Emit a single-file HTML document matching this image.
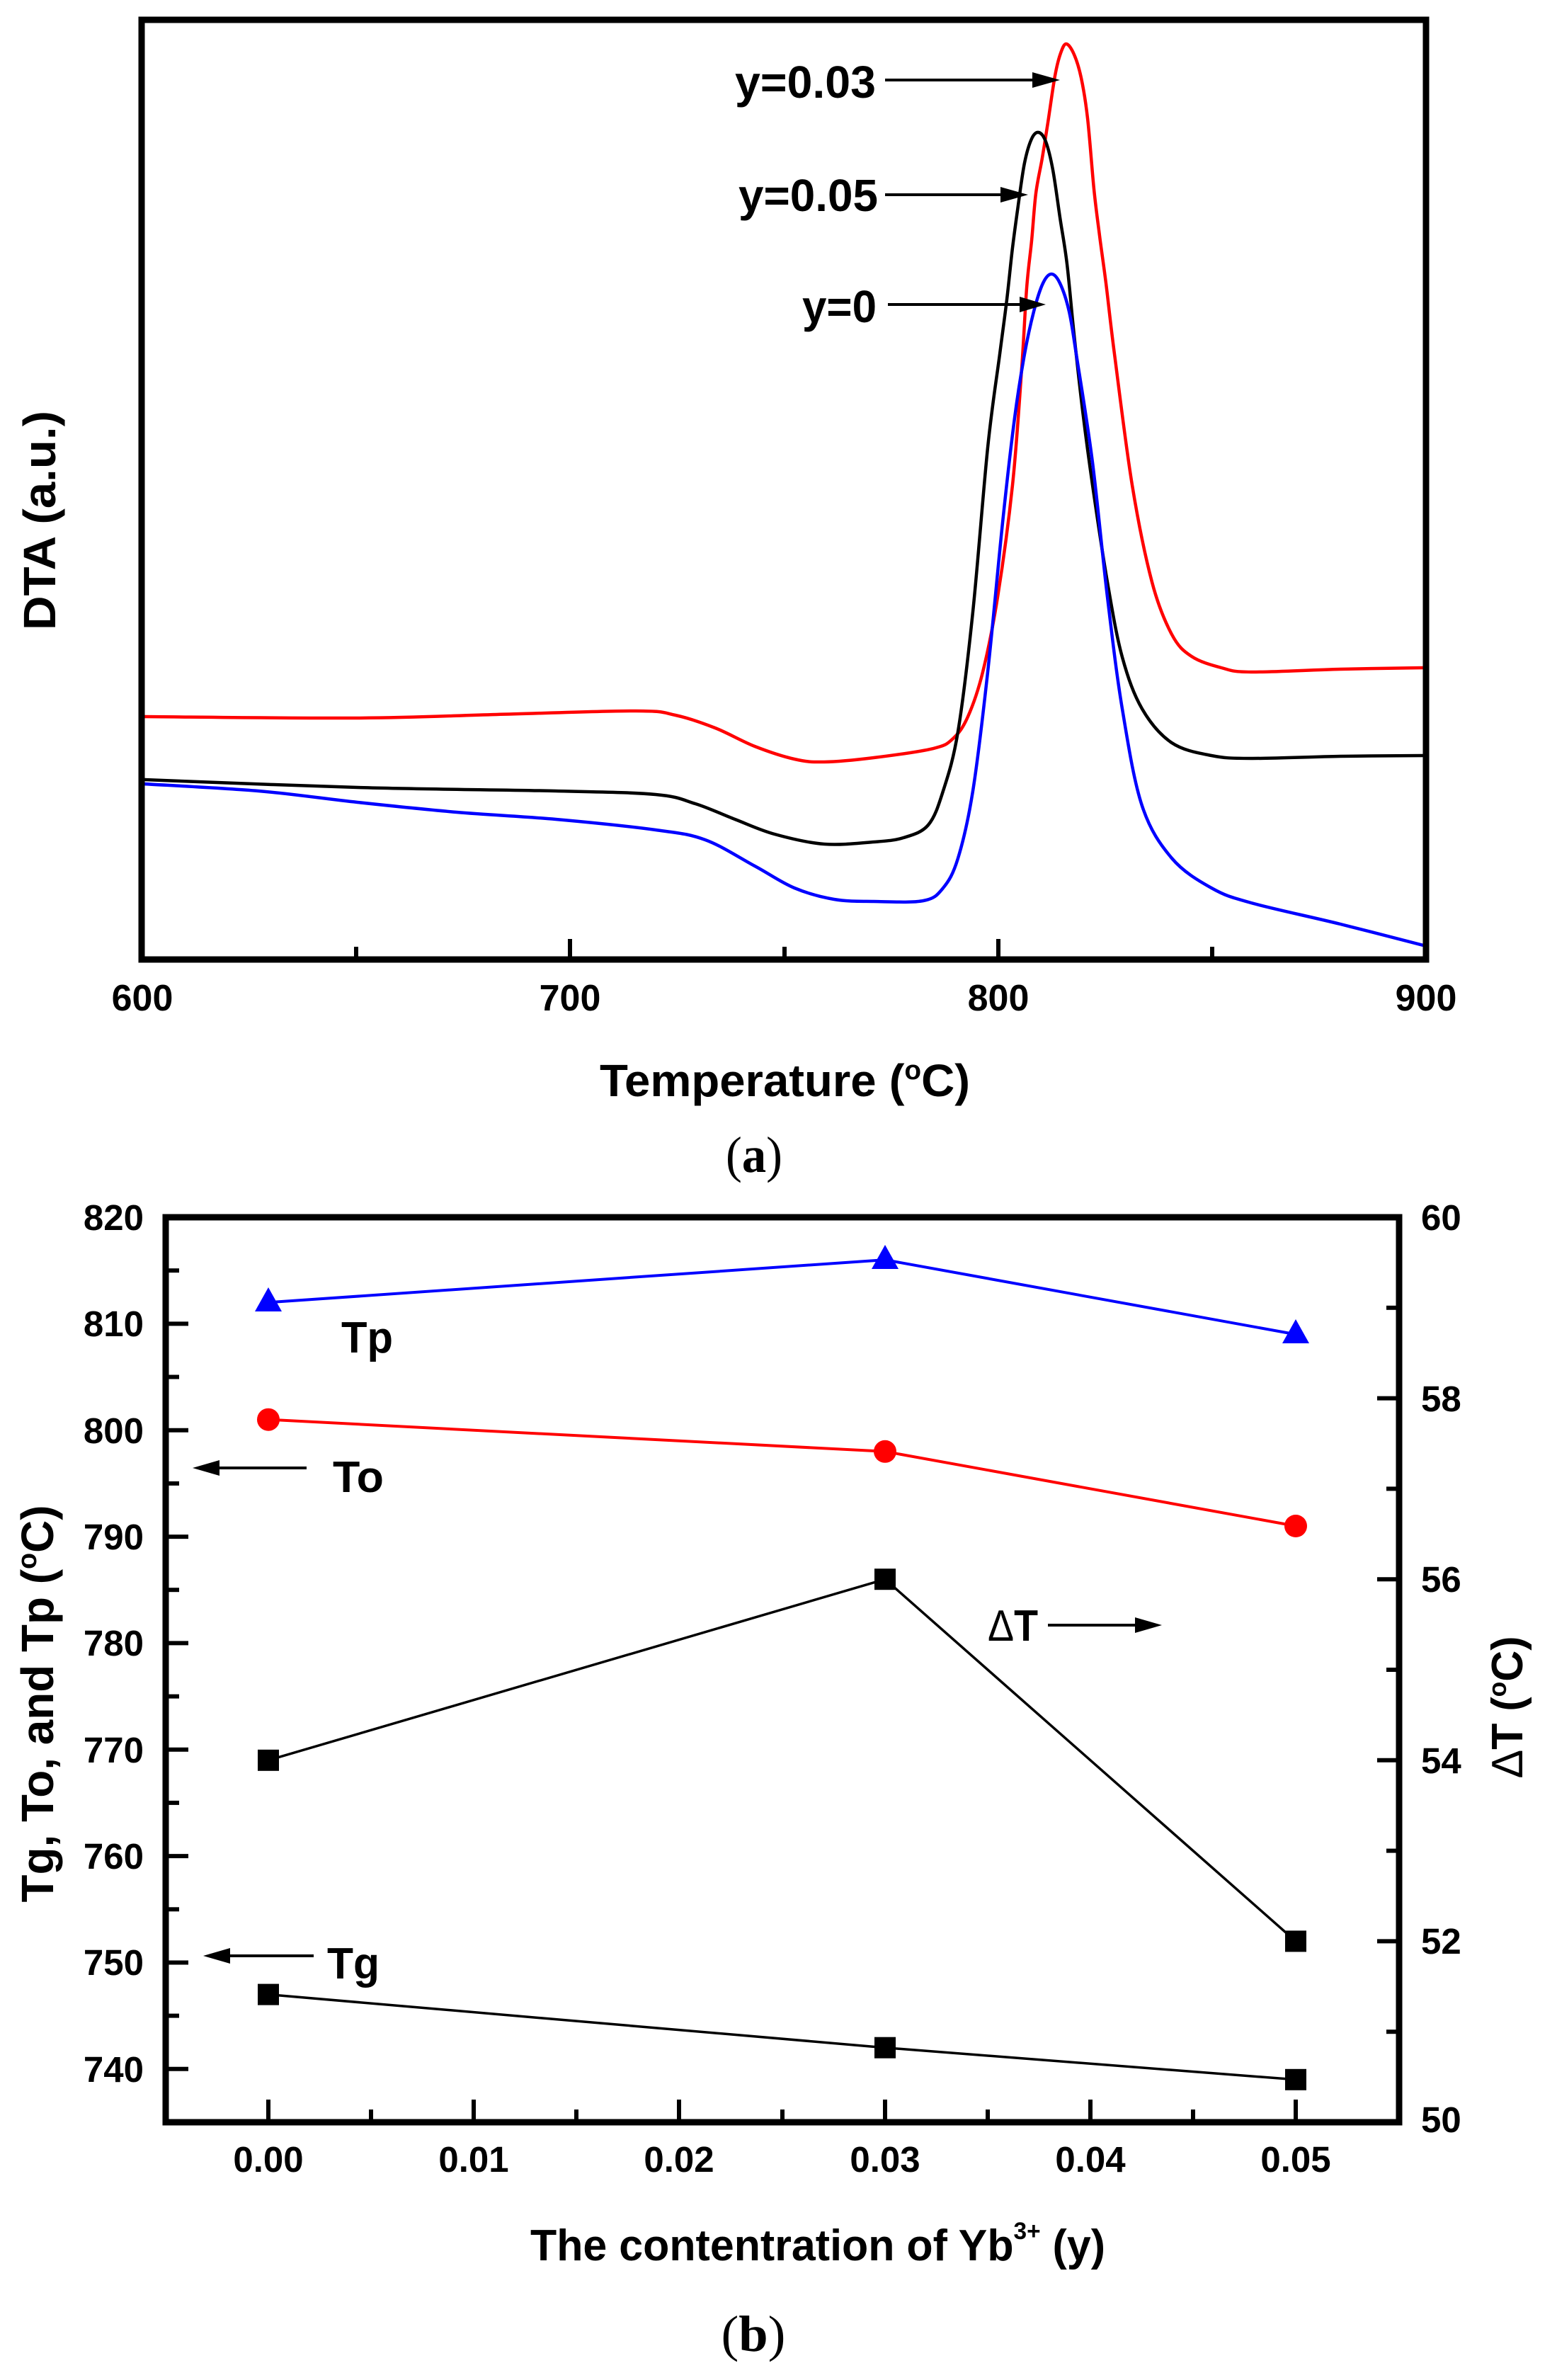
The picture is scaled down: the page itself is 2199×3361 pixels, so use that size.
<!DOCTYPE html>
<html>
<head>
<meta charset="utf-8">
<style>
  html, body { margin:0; padding:0; background:#fff; }
  svg { display:block; }
  text { font-family: "Liberation Sans", "DejaVu Sans", sans-serif; font-weight: bold; fill:#000; }
  .serif { font-family: "Liberation Serif", "DejaVu Serif", serif; }
</style>
</head>
<body>
<svg width="2199" height="3361" viewBox="0 0 2199 3361" xmlns="http://www.w3.org/2000/svg">
  <rect x="0" y="0" width="2199" height="3361" fill="#fff"/>

  <!-- ================= PANEL (a) ================= -->
  <defs>
    <clipPath id="clipA"><rect x="204" y="32" width="1806" height="1319"/></clipPath>
  </defs>

  <!-- curves -->
  <g clip-path="url(#clipA)" fill="none" stroke-width="4.5" stroke-linejoin="round" stroke-linecap="round">
    <polyline class="smooth" stroke="#ff0000" points="203,1012 505,1014 701,1009 898,1004 954,1010 1010,1028 1066,1054 1122,1072 1164,1076 1234,1070 1318,1057 1346,1043 1367,1012 1388,949 1409,843 1430,685 1443,520 1450,407 1457,340 1463,273 1472,223 1480,173 1490,107 1498,75 1506,62 1517,77 1527,110 1536,167 1545,267 1553,333 1562,400 1574,500 1599,685 1627,822 1655,896 1683,927 1725,943 1767,949 1893,945 2014,943"/>
    <polyline class="smooth" stroke="#000000" points="203,1101 505,1112 785,1117 926,1122 982,1135 1038,1157 1094,1178 1164,1192 1234,1189 1276,1183 1311,1165 1332,1117 1353,1033 1374,864 1395,632 1412,500 1422,423 1430,350 1438,290 1447,230 1457,196 1467,187 1477,200 1487,240 1497,307 1507,373 1517,473 1529,580 1543,685 1564,822 1585,928 1613,1001 1655,1049 1711,1067 1767,1071 1893,1068 2014,1067"/>
    <polyline class="smooth" stroke="#0000ff" points="203,1107 365,1117 505,1133 645,1147 785,1157 926,1172 996,1186 1066,1223 1122,1254 1178,1270 1234,1273 1304,1272 1332,1254 1353,1212 1374,1117 1395,949 1416,738 1433,590 1447,500 1460,440 1473,400 1485,387 1497,400 1510,440 1520,500 1543,653 1564,843 1585,1001 1613,1138 1655,1212 1711,1254 1767,1275 1893,1305 2014,1336"/>
  </g>

  <!-- frame (a) -->
  <rect x="200" y="28" width="1814" height="1327" fill="none" stroke="#000" stroke-width="9"/>

  <!-- bottom ticks (a) -->
  <g stroke="#000" stroke-width="6">
    <line x1="503" y1="1351" x2="503" y2="1337"/>
    <line x1="805" y1="1351" x2="805" y2="1326"/>
    <line x1="1108" y1="1351" x2="1108" y2="1337"/>
    <line x1="1410" y1="1351" x2="1410" y2="1326"/>
    <line x1="1712" y1="1351" x2="1712" y2="1337"/>
  </g>

  <!-- tick labels (a) -->
  <g font-size="52" text-anchor="middle">
    <text x="201" y="1427">600</text>
    <text x="805" y="1427">700</text>
    <text x="1410" y="1427">800</text>
    <text x="2014" y="1427">900</text>
  </g>

  <!-- axis titles (a) -->
  <text x="847" y="1548" font-size="64" textLength="523" lengthAdjust="spacingAndGlyphs">Temperature (<tspan font-size="38" dy="-24">o</tspan><tspan dy="24">C)</tspan></text>
  <text transform="translate(78,735) rotate(-90)" x="0" y="0" font-size="64" text-anchor="middle" textLength="310" lengthAdjust="spacingAndGlyphs">DTA (a.u.)</text>

  <!-- annotations (a) -->
  <g font-size="64" text-anchor="end">
    <text x="1237" y="138" textLength="199" lengthAdjust="spacingAndGlyphs">y=0.03</text>
    <text x="1240" y="298" textLength="197" lengthAdjust="spacingAndGlyphs">y=0.05</text>
    <text x="1238" y="455" textLength="105" lengthAdjust="spacingAndGlyphs">y=0</text>
  </g>
  <g stroke="#000" stroke-width="4">
    <line x1="1250" y1="113" x2="1462" y2="113"/>
    <line x1="1250" y1="275" x2="1417" y2="275"/>
    <line x1="1254" y1="430" x2="1444" y2="430"/>
  </g>
  <g fill="#000">
    <polygon points="1497,113 1458,102 1458,124"/>
    <polygon points="1452,275 1413,264 1413,286"/>
    <polygon points="1477,430 1440,419 1440,441"/>
  </g>

  <!-- (a) caption -->
  <text class="serif" x="1065" y="1655" font-size="72" text-anchor="middle" style="font-weight:normal" textLength="80" lengthAdjust="spacingAndGlyphs">(<tspan style="font-weight:bold">a</tspan>)</text>

  <!-- ================= PANEL (b) ================= -->
  <rect x="234" y="1719" width="1742" height="1278" fill="none" stroke="#000" stroke-width="9"/>

  <!-- left ticks -->
  <g stroke="#000" stroke-width="6">
    <line x1="238" y1="1794.2" x2="253" y2="1794.2"/>
    <line x1="238" y1="1869.4" x2="266" y2="1869.4"/>
    <line x1="238" y1="1944.5" x2="253" y2="1944.5"/>
    <line x1="238" y1="2019.7" x2="266" y2="2019.7"/>
    <line x1="238" y1="2094.9" x2="253" y2="2094.9"/>
    <line x1="238" y1="2170.1" x2="266" y2="2170.1"/>
    <line x1="238" y1="2245.2" x2="253" y2="2245.2"/>
    <line x1="238" y1="2320.4" x2="266" y2="2320.4"/>
    <line x1="238" y1="2395.6" x2="253" y2="2395.6"/>
    <line x1="238" y1="2470.8" x2="266" y2="2470.8"/>
    <line x1="238" y1="2545.9" x2="253" y2="2545.9"/>
    <line x1="238" y1="2621.1" x2="266" y2="2621.1"/>
    <line x1="238" y1="2696.3" x2="253" y2="2696.3"/>
    <line x1="238" y1="2771.5" x2="266" y2="2771.5"/>
    <line x1="238" y1="2846.6" x2="253" y2="2846.6"/>
    <line x1="238" y1="2921.8" x2="266" y2="2921.8"/>
  </g>
  <!-- right ticks -->
  <g stroke="#000" stroke-width="6">
    <line x1="1972" y1="1846.8" x2="1958" y2="1846.8"/>
    <line x1="1972" y1="1974.6" x2="1945" y2="1974.6"/>
    <line x1="1972" y1="2102.4" x2="1958" y2="2102.4"/>
    <line x1="1972" y1="2230.2" x2="1945" y2="2230.2"/>
    <line x1="1972" y1="2358.0" x2="1958" y2="2358.0"/>
    <line x1="1972" y1="2485.8" x2="1945" y2="2485.8"/>
    <line x1="1972" y1="2613.6" x2="1958" y2="2613.6"/>
    <line x1="1972" y1="2741.4" x2="1945" y2="2741.4"/>
    <line x1="1972" y1="2869.2" x2="1958" y2="2869.2"/>
  </g>
  <!-- bottom ticks -->
  <g stroke="#000" stroke-width="6">
    <line x1="379" y1="2993" x2="379" y2="2965"/>
    <line x1="524" y1="2993" x2="524" y2="2979"/>
    <line x1="669" y1="2993" x2="669" y2="2965"/>
    <line x1="814" y1="2993" x2="814" y2="2979"/>
    <line x1="959" y1="2993" x2="959" y2="2965"/>
    <line x1="1105" y1="2993" x2="1105" y2="2979"/>
    <line x1="1250" y1="2993" x2="1250" y2="2965"/>
    <line x1="1395" y1="2993" x2="1395" y2="2979"/>
    <line x1="1540" y1="2993" x2="1540" y2="2965"/>
    <line x1="1685" y1="2993" x2="1685" y2="2979"/>
    <line x1="1830" y1="2993" x2="1830" y2="2965"/>
  </g>

  <!-- left tick labels -->
  <g font-size="51" text-anchor="end">
    <text x="203" y="1737">820</text>
    <text x="203" y="1887">810</text>
    <text x="203" y="2038">800</text>
    <text x="203" y="2188">790</text>
    <text x="203" y="2338">780</text>
    <text x="203" y="2489">770</text>
    <text x="203" y="2639">760</text>
    <text x="203" y="2789">750</text>
    <text x="203" y="2940">740</text>
  </g>
  <!-- right tick labels -->
  <g font-size="51" text-anchor="start">
    <text x="2007" y="1737">60</text>
    <text x="2007" y="1993">58</text>
    <text x="2007" y="2248">56</text>
    <text x="2007" y="2504">54</text>
    <text x="2007" y="2759">52</text>
    <text x="2007" y="3011">50</text>
  </g>
  <!-- bottom tick labels -->
  <g font-size="51" text-anchor="middle">
    <text x="379" y="3067">0.00</text>
    <text x="669" y="3067">0.01</text>
    <text x="959" y="3067">0.02</text>
    <text x="1250" y="3067">0.03</text>
    <text x="1540" y="3067">0.04</text>
    <text x="1830" y="3067">0.05</text>
  </g>

  <!-- series lines -->
  <g fill="none" stroke-linejoin="round">
    <polyline stroke="#0000ff" stroke-width="4" points="379,1839.3 1250,1779.1 1830,1884.4"/>
    <polyline stroke="#ff0000" stroke-width="4" points="379,2004.7 1250,2049.8 1830,2155.0"/>
    <polyline stroke="#000" stroke-width="3.5" points="379,2485.8 1250,2230.2 1830,2741.4"/>
    <polyline stroke="#000" stroke-width="3.5" points="379,2816.6 1250,2891.7 1830,2936.8"/>
  </g>

  <!-- markers -->
  <g fill="#0000ff">
    <polygon points="379,1818 360,1852 398,1852"/>
    <polygon points="1250,1758 1231,1792 1269,1792"/>
    <polygon points="1830,1863 1811,1897 1849,1897"/>
  </g>
  <g fill="#ff0000">
    <circle cx="379" cy="2004.7" r="16"/>
    <circle cx="1250" cy="2049.8" r="16"/>
    <circle cx="1830" cy="2155.0" r="16"/>
  </g>
  <g fill="#000">
    <rect x="364" y="2470.8" width="30" height="30"/>
    <rect x="1235" y="2215.2" width="30" height="30"/>
    <rect x="1815" y="2726.4" width="30" height="30"/>
    <rect x="364" y="2801.6" width="30" height="30"/>
    <rect x="1235" y="2876.7" width="30" height="30"/>
    <rect x="1815" y="2921.8" width="30" height="30"/>
  </g>

  <!-- annotations (b) -->
  <g font-size="62">
    <text x="482" y="1910" textLength="73" lengthAdjust="spacingAndGlyphs">Tp</text>
    <text x="470" y="2107" textLength="72" lengthAdjust="spacingAndGlyphs">To</text>
    <text x="1395" y="2317" textLength="71" lengthAdjust="spacingAndGlyphs"><tspan style="font-weight:normal">Δ</tspan>T</text>
    <text x="462" y="2794" textLength="74" lengthAdjust="spacingAndGlyphs">Tg</text>
  </g>
  <g stroke="#000" stroke-width="4">
    <line x1="433" y1="2073" x2="305" y2="2073"/>
    <line x1="443" y1="2762" x2="320" y2="2762"/>
    <line x1="1480" y1="2295" x2="1608" y2="2295"/>
  </g>
  <g fill="#000">
    <polygon points="272,2073 310,2062 310,2084"/>
    <polygon points="287,2762 325,2751 325,2773"/>
    <polygon points="1641,2295 1603,2284 1603,2306"/>
  </g>

  <!-- axis titles (b) -->
  <text transform="translate(75,2406) rotate(-90)" x="0" y="0" font-size="64" text-anchor="middle" textLength="561" lengthAdjust="spacingAndGlyphs">Tg, To, and Tp (<tspan font-size="38" dy="-24">o</tspan><tspan dy="24">C)</tspan></text>
  <text transform="translate(2150,2411) rotate(-90)" x="0" y="0" font-size="62" text-anchor="middle" textLength="201" lengthAdjust="spacingAndGlyphs"><tspan style="font-weight:normal">Δ</tspan>T (<tspan font-size="36" dy="-23">o</tspan><tspan dy="23">C)</tspan></text>
  <text x="749" y="3192" font-size="62" textLength="812" lengthAdjust="spacingAndGlyphs">The contentration of Yb<tspan font-size="34" dy="-30">3+</tspan><tspan dy="30"> (y)</tspan></text>

  <!-- (b) caption -->
  <text class="serif" x="1064" y="3320" font-size="72" text-anchor="middle" style="font-weight:normal" textLength="91" lengthAdjust="spacingAndGlyphs">(<tspan style="font-weight:bold">b</tspan>)</text>
</svg>
<script>
(function(){
  var NS = "http://www.w3.org/2000/svg";
  var pls = document.querySelectorAll("polyline.smooth");
  for (var k = 0; k < pls.length; k++) {
    var pl = pls[k];
    var raw = pl.getAttribute("points").trim().split(/\s+/);
    var p = raw.map(function(s){ var a = s.split(","); return [parseFloat(a[0]), parseFloat(a[1])]; });
    var d = "M" + p[0][0] + "," + p[0][1];
    for (var i = 0; i < p.length - 1; i++) {
      var p0 = p[i > 0 ? i - 1 : i], p1 = p[i], p2 = p[i + 1], p3 = p[i + 2 < p.length ? i + 2 : i + 1];
      var t = 6;
      var c1x = p1[0] + (p2[0] - p0[0]) / t, c1y = p1[1] + (p2[1] - p0[1]) / t;
      var c2x = p2[0] - (p3[0] - p1[0]) / t, c2y = p2[1] - (p3[1] - p1[1]) / t;
      d += " C" + c1x.toFixed(1) + "," + c1y.toFixed(1) + " " + c2x.toFixed(1) + "," + c2y.toFixed(1) + " " + p2[0] + "," + p2[1];
    }
    var path = document.createElementNS(NS, "path");
    path.setAttribute("d", d);
    path.setAttribute("stroke", pl.getAttribute("stroke"));
    path.setAttribute("fill", "none");
    pl.parentNode.replaceChild(path, pl);
  }
})();
</script>
</body>
</html>
